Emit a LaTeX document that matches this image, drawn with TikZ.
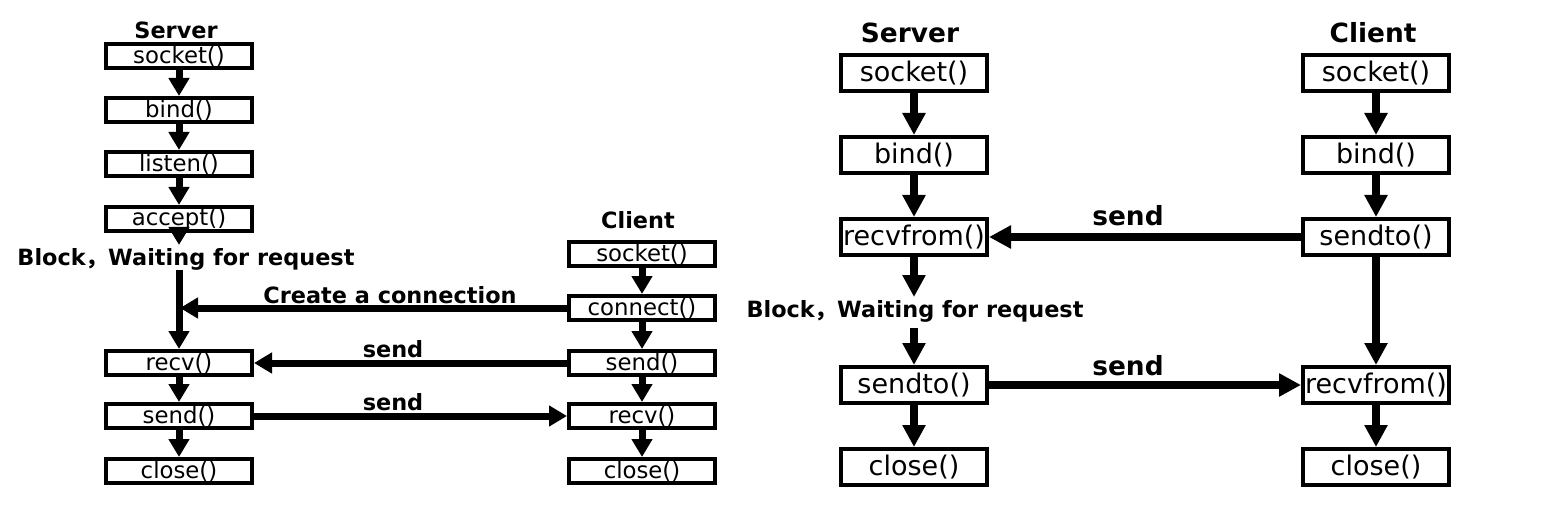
\documentclass[tikz,border=0pt]{standalone}
\usepackage{fontspec}
\setmainfont{DejaVu Sans}
\newfontfamily\cjk{Noto Sans CJK SC}
\usetikzlibrary{arrows.meta}

\begin{document}
\begin{tikzpicture}[
    x=0.5pt, y=-0.5pt,
    call/.style={
        draw,
        line width=2pt,
        minimum width=73pt,
        minimum height=12pt,
        inner sep=0pt,
        font=\fontsize{11.4}{12}\selectfont
    },
    bigcall/.style={
        call,
        minimum height=18pt,
        font=\fontsize{13.5}{14}\selectfont
    },
    title/.style={font=\bfseries\fontsize{11.2}{12}\selectfont},
    bigtitle/.style={font=\bfseries\fontsize{13.2}{14}\selectfont},
    flow/.style={line width=3.5pt, -{Triangle[width=10pt,length=9pt]}},
    bigflow/.style={line width=4pt, -{Triangle[width=11pt,length=11pt]}}
]
\useasboundingbox (0,0) rectangle (1556,529);

% TCP: server column, then client column
\node[title] (tcpserver) at (176,30) {Server};
\foreach \name/\y/\txt in {
    tsock/56/socket(),
    tbind/110/bind(),
    tlisten/164/listen(),
    taccept/219/accept(),
    trecv/363/recv(),
    tsend/416/send(),
    tclose/471/close()
}{
    \node[call] (\name) at (179,\y) {\txt};
}

\node[title] (tcpclient) at (638,220) {Client};
\foreach \name/\y/\txt in {
    csock/254/socket(),
    cconnect/308/connect(),
    csend/363/send(),
    crecv/416/recv(),
    cclose/471/close()
}{
    \node[call] (\name) at (642,\y) {\txt};
}

\foreach \a/\b in {tsock/tbind,tbind/tlisten,tlisten/taccept,
    trecv/tsend,tsend/tclose,
    csock/cconnect,cconnect/csend,csend/crecv,crecv/cclose}{
    \draw[flow] (\a) -- (\b);
}

% blocking in accept()
\coordinate (tblocktip) at (179,245);
\coordinate (tblockout) at (179,270);
\draw[flow] (taccept.south) -- (tblocktip);
\node[title] (tblock) at (186,259) {Block{\cjk ，}Waiting for request};
\draw[flow] (tblockout) -- (trecv);

\coordinate (tconntip) at (180,308);
\draw[flow] (cconnect) -- (tconntip);
\node[title] (tconnlabel) at (390,295) {Create a connection};

\draw[flow] (csend) -- (trecv);
\node[title] (tsendlabel1) at (393,349) {send};
\draw[flow] (tsend) -- (crecv);
\node[title] (tsendlabel2) at (393,402) {send};

% UDP: server column, then client column
\node[bigtitle] (udpserver) at (910,33) {Server};
\foreach \name/\y/\txt in {
    usock/73/socket(),
    ubind/155/bind(),
    urecv/237/recvfrom(),
    usend/385/sendto(),
    uclose/467/close()
}{
    \node[bigcall] (\name) at (914,\y) {\txt};
}

\node[bigtitle] (udpclient) at (1373,33) {Client};
\foreach \name/\y/\txt in {
    vsock/73/socket(),
    vbind/155/bind(),
    vsend/237/sendto(),
    vrecv/385/recvfrom(),
    vclose/467/close()
}{
    \node[bigcall] (\name) at (1376,\y) {\txt};
}

\foreach \a/\b in {usock/ubind,ubind/urecv,usend/uclose,
    vsock/vbind,vbind/vsend,vsend/vrecv,vrecv/vclose}{
    \draw[bigflow] (\a) -- (\b);
}

% blocking in recvfrom()
\coordinate (ublocktip) at (914,297);
\coordinate (ublockout) at (914,328);
\draw[bigflow] (urecv) -- (ublocktip);
\node[title] (ublock) at (915,311) {Block{\cjk ，}Waiting for request};
\draw[bigflow] (ublockout) -- (usend);

\draw[bigflow] (vsend) -- (urecv);
\node[bigtitle] (usendlabel1) at (1128,216) {send};
\draw[bigflow] (usend) -- (vrecv);
\node[bigtitle] (usendlabel2) at (1128,366) {send};
\end{tikzpicture}
\end{document}
